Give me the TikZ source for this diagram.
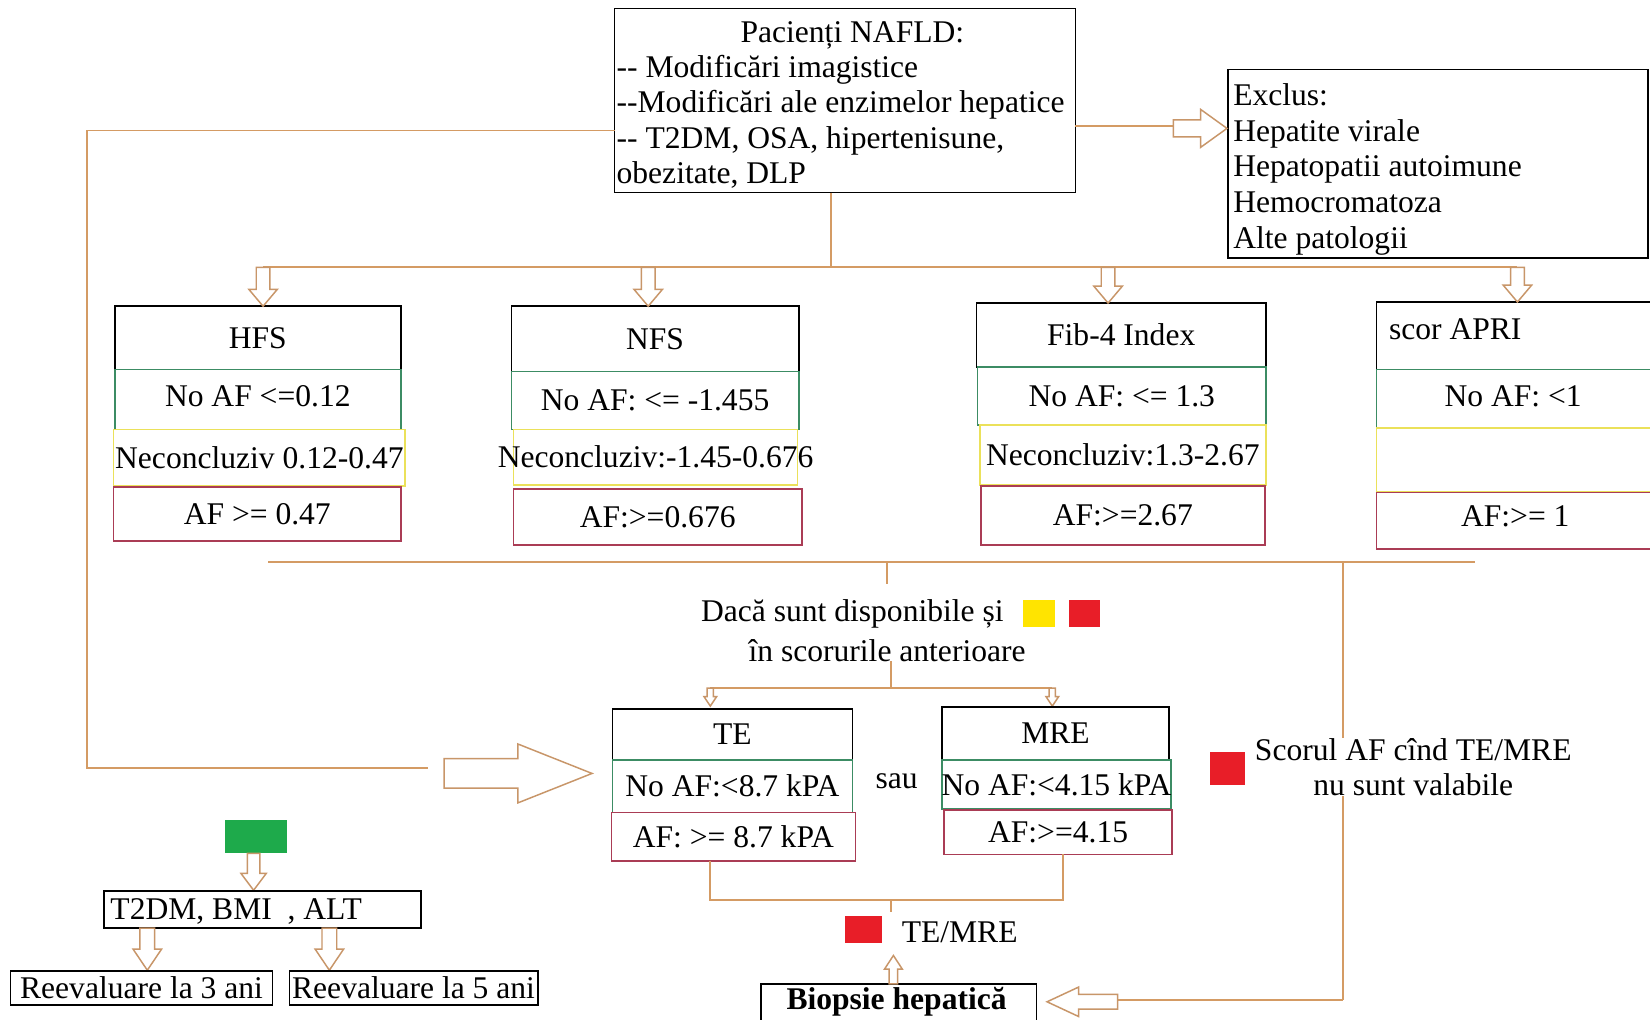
\documentclass[tikz,border=0pt]{standalone}
\usepackage{fontspec}
\setmainfont{Liberation Serif}
\definecolor{conncol}{RGB}{212,155,100}
\definecolor{arrcol}{RGB}{200,150,105}
\definecolor{grncol}{RGB}{60,140,100}
\definecolor{ylwcol}{RGB}{235,225,90}
\definecolor{redcol}{RGB}{170,60,85}
\definecolor{sqyellow}{RGB}{255,228,0}
\definecolor{sqred}{RGB}{232,30,40}
\definecolor{sqgreen}{RGB}{30,170,75}
\newcommand{\hollowarr}[6]{%
  \draw[harrowst, shift={#1}, rotate=#2] (0,-#4) -- ({#3-#6},-#4) -- ({#3-#6},-#5) -- (#3,0) -- ({#3-#6},#5) -- ({#3-#6},#4) -- (0,#4) -- cycle;}
\begin{document}
\begin{tikzpicture}[x=0.5pt,y=-0.5pt,
  every node/.style={font=\fontsize{15pt}{16.8pt}\selectfont, inner sep=0pt, outer sep=0pt},
  conn/.style={draw=conncol, line width=0.8pt},
  harrowst/.style={draw=arrcol, fill=white, line width=0.7pt, line join=miter},
  hdr/.style={draw=black, line width=0.8pt},
  grn/.style={draw=grncol, line width=0.8pt},
  ylw/.style={draw=ylwcol, line width=0.8pt},
  rd/.style={draw=redcol, line width=0.8pt},
  plain/.style={draw=black, line width=0.8pt},
  sq/.style={fill=#1, draw=none}]
\useasboundingbox (0,0) rectangle (1568,969);
\clip (0,0) rectangle (1568,969);
\fill[white] (0,0) rectangle (1568,969);

% ---- top box and exclusion box
\node[plain, minimum width=219pt, minimum height=87.5pt] (top) at (803,95.5) {};
\node[anchor=west, align=left] (topt) at (586,99.5)
  {\makebox[224pt]{Pacienți NAFLD:}\\
   {-}{-} Modificări imagistice\\
   {-}{-}Modificări ale enzimelor hepatice\\
   {-}{-} T2DM, OSA, hipertenisune,\\
   obezitate, DLP};
\node[plain, minimum width=199.5pt, minimum height=89.5pt] (excl) at (1366.5,155.5) {};
\node[anchor=west, align=left, font=\fontsize{15pt}{17pt}\selectfont] (exclt) at (1172,161)
  {Exclus:\\ Hepatite virale\\ Hepatopatii autoimune\\ Hemocromatoza\\ Alte patologii};

% ---- score boxes
\node[hdr, minimum width=136pt, minimum height=30pt] (hfsH) at (245,321) {HFS};
\node[grn, minimum width=136pt, minimum height=28.5pt] (hfsG) at (245,379.5) {\raisebox{3pt}{No AF <=0.12}};
\node[ylw, minimum width=138.5pt, minimum height=27pt] (hfsY) at (246.5,435) {\makebox[0pt]{Neconcluziv 0.12-0.47}};
\node[rd, minimum width=136.5pt, minimum height=25.5pt] (hfsR) at (244.5,488.5) {AF >= 0.47};

\node[hdr, minimum width=136.5pt, minimum height=31pt] (nfsH) at (622.5,322) {NFS};
\node[grn, minimum width=136.5pt, minimum height=27.5pt] (nfsG) at (622.5,380.5) {No AF: <= -1.455};
\node[ylw, minimum width=135pt, minimum height=26.5pt] (nfsY) at (623,434.5) {\makebox[0pt]{Neconcluziv:-1.45-0.676}};
\node[rd, minimum width=137pt, minimum height=26.5pt] (nfsR) at (625,491.5) {AF:>=0.676};

\node[hdr, minimum width=137.5pt, minimum height=30.5pt] (fibH) at (1065.5,318.5) {Fib-4 Index};
\node[grn, minimum width=137pt, minimum height=27.5pt] (fibG) at (1066,376.5) {\raisebox{-2pt}{No AF: <= 1.3}};
\node[ylw, minimum width=136pt, minimum height=28.5pt] (fibY) at (1067,432.5) {\makebox[0pt]{Neconcluziv:1.3-2.67}};
\node[rd, minimum width=135pt, minimum height=28pt] (fibR) at (1067,490) {AF:>=2.67};

\node[hdr, minimum width=133.5pt, minimum height=32pt] (apH) at (1441.5,319) {};
\node[anchor=west] (apT) at (1320,313) {scor APRI};
\node[grn, minimum width=133.5pt, minimum height=28pt] (apG) at (1441.5,379) {};
\node (apGt) at (1438,377) {No AF: <1};
\node[ylw, minimum width=133.5pt, minimum height=30pt] (apY) at (1441.5,437) {};
\node[rd, minimum width=133.5pt, minimum height=27pt] (apR) at (1441.5,495) {};
\node (apRt) at (1440,491) {AF:>= 1};

% ---- connectors top
\coordinate (lcorner) at (83,124);
\coordinate (lbottom) at (83,730);
\coordinate (lend) at (407,730);
\draw[conn] (top.west |- lcorner) -- (lcorner) -- (lbottom) -- (lend);
\coordinate (rend) at (1115,120);
\draw[conn] (top.east |- rend) -- (rend);
\hollowarr{(1115,122)}{0}{51}{8}{18}{25}

\coordinate (bus) at (790,254);
\coordinate (busL) at (250,254);
\coordinate (busR) at (1442,254);
\draw[conn] (bus |- top.south) -- (bus);
\draw[conn] (busL) -- (busR);
\hollowarr{(250,254)}{-90}{37}{6.5}{13.5}{16}
\hollowarr{(616,254)}{-90}{37}{6.5}{13.5}{16}
\hollowarr{(1053,254)}{-90}{34}{6.5}{13.5}{16}
\hollowarr{(1442,254)}{-90}{33}{6.5}{13.5}{16}

% ---- middle bus
\coordinate (mbL) at (255,534);
\coordinate (mbR) at (1402,534);
\coordinate (mbC) at (843,534);
\coordinate (vR) at (1276,534);
\coordinate (vRb) at (1276,950);
\draw[conn] (mbL) -- (mbR);
\draw[conn] (mbC) -- (843,555);
\draw[conn] (vR) -- (vRb);

\node (dac1) at (810,583) {Dacă sunt disponibile și};
\node[sq=sqyellow, minimum width=15.5pt, minimum height=13pt] (sqY) at (987.5,583) {};
\node[sq=sqred, minimum width=14.5pt, minimum height=13pt] (sqR1) at (1030.5,583) {};
\node (dac2) at (843,618) {în scorurile anterioare};

\coordinate (tb) at (847,654);
\coordinate (tbL) at (675,654);
\coordinate (tbR) at (1000,654);
\draw[conn] (tb |- dac2.south) -- (tb);
\draw[conn] (tbL) -- (tbR);
\hollowarr{(675,654)}{-90}{17}{3}{6}{9}
\hollowarr{(1000,654)}{-90}{17}{3}{6}{9}

% ---- TE / MRE
\node[hdr, minimum width=114pt, minimum height=24pt] (teH) at (696,698) {TE};
\node[grn, minimum width=114pt, minimum height=25pt] (teG) at (696,747) {\makebox[0pt]{No AF:<8.7 kPA}};
\node[rd, minimum width=116pt, minimum height=23pt] (teR) at (697,795) {\makebox[0pt]{AF: >= 8.7 kPA}};
\node[hdr, minimum width=108pt, minimum height=25pt] (mreH) at (1003,697) {MRE};
\node[grn, minimum width=109pt, minimum height=23.5pt] (mreG) at (1004,745.5) {\makebox[0pt]{No AF:<4.15 kPA}};
\node[rd, minimum width=108.5pt, minimum height=21pt] (mreR) at (1005.5,791) {AF:>=4.15};
\node (sau) at (852,742) {sau};

\hollowarr{(422,735)}{0}{140.6}{14}{28}{70.5}

\coordinate (b1) at (675,855);
\coordinate (b2) at (1010,855);
\coordinate (bc) at (847,855);
\draw[conn] (b1 |- teR.south) -- (b1) -- (b2) -- (b2 |- mreR.south);
\draw[conn] (bc) -- (847,867);

\node[sq=sqred, minimum width=17.5pt, minimum height=13pt] (sqR2) at (820.5,883) {};
\node[anchor=west] (temre) at (857,886) {TE/MRE};

\node[plain, minimum width=131pt, minimum height=22.5pt] (bio) at (854,957.5) {};
\node[font=\fontsize{15pt}{16.8pt}\selectfont\bfseries] (biot) at (852,952) {Biopsie hepatică};
\hollowarr{(849,935)}{90}{27}{4}{8.5}{13}
\draw[conn] (1062,950) -- (vRb);
\hollowarr{(1062,952)}{180}{67}{7}{14}{30}

% ---- red legend right
\node[sq=sqred, minimum width=16.5pt, minimum height=15.5pt] (sqR3) at (1166.5,730.5) {};
\node[fill=white, align=center, inner xsep=2pt, font=\fontsize{15pt}{17pt}\selectfont] (scor) at (1343,729) {Scorul AF cînd TE/MRE\\nu sunt valabile};

% ---- green branch
\node[sq=sqgreen, minimum width=29.5pt, minimum height=16pt] (sqG) at (243.5,795) {};
\hollowarr{(241,811)}{-90}{35}{6}{12}{16}
\node[plain, minimum width=150.5pt, minimum height=17.5pt] (t2) at (249.5,864.5) {};
\node[anchor=west] (t2t) at (105,866) {T2DM, BMI\ \ , ALT};
\hollowarr{(140,882)}{-90}{40}{7}{13.5}{20}
\hollowarr{(313,882)}{-90}{40}{7}{13.5}{20}
\node[plain, minimum width=124.5pt, minimum height=16pt] (r3) at (134.5,939) {Reevaluare la 3 ani};
\node[plain, minimum width=118pt, minimum height=16pt] (r5) at (393,939) {\makebox[0pt]{Reevaluare la 5 ani}};
\end{tikzpicture}
\end{document}
